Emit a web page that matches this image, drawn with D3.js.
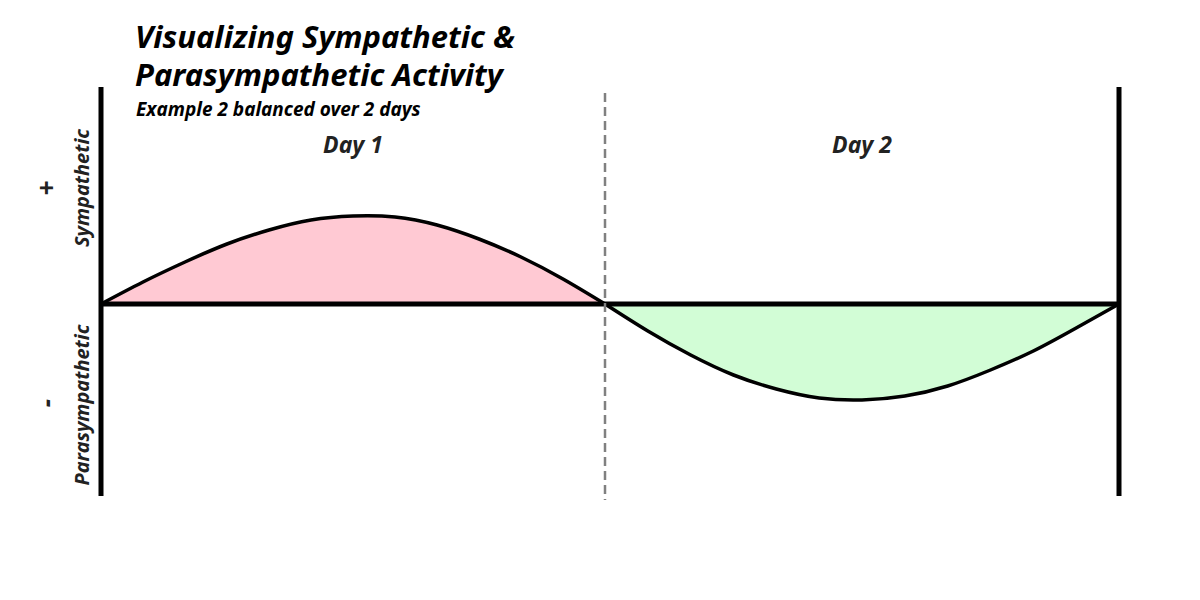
<!DOCTYPE html>
<html>
<head>
<meta charset="utf-8">
<script src="https://cdn.jsdelivr.net/npm/d3@7"></script>
<style>
  body { margin: 0; background: #fff; }
  text { font-family: "Noto Sans", "Open Sans", sans-serif; font-weight: 700; font-style: italic; }
</style>
</head>
<body>
<div id="chart"></div>
<script>
// hours across the two days
const hours = [0, 2, 4, 6, 8, 10, 12, 14, 16, 18, 20, 22, 24,
               26, 28, 30, 32, 34, 36, 38, 40, 42, 44, 46, 48];
// activity level (+ sympathetic, - parasympathetic)
const activity = [0, 0.22, 0.42, 0.60, 0.74, 0.84, 0.88, 0.87, 0.79, 0.65, 0.47, 0.25, 0,
                  -0.27, -0.51, -0.71, -0.85, -0.94, -0.96, -0.92, -0.82, -0.66, -0.47, -0.24, 0];
const dayLabels = ["Day 1", "Day 2"];
const dayStarts = [0, 24];

const width = 1200, height = 600;

const x = d3.scaleLinear().domain([0, 24, 48]).range([101, 605, 1119]);
const y = d3.scaleLinear().domain([-2, 2]).range([504, 104]);

const svg = d3.select('#chart').append('svg')
    .attr('width', width)
    .attr('height', height);

const points = hours.map((h, i) => ({ h: h, v: activity[i] }));
const day1 = points.filter(d => d.h <= 24);
const day2 = points.filter(d => d.h >= 24);

const area = d3.area()
    .x(d => x(d.h))
    .y0(y(0))
    .y1(d => y(d.v))
    .curve(d3.curveNatural);

const line = d3.line()
    .x(d => x(d.h))
    .y(d => y(d.v))
    .curve(d3.curveNatural);

svg.append('path').attr('d', area(day1)).attr('fill', '#ffc9d3');
svg.append('path').attr('d', area(day2)).attr('fill', '#d2fdd6');

svg.append('path').attr('d', line(day1))
    .attr('fill', 'none').attr('stroke', '#000').attr('stroke-width', 3.5);
svg.append('path').attr('d', line(day2))
    .attr('fill', 'none').attr('stroke', '#000').attr('stroke-width', 3.5);

// baseline
svg.append('line')
    .attr('x1', x(0)).attr('x2', x(48))
    .attr('y1', y(0)).attr('y2', y(0))
    .attr('stroke', '#000').attr('stroke-width', 5);

// day divider
svg.append('line')
    .attr('x1', x(24)).attr('x2', x(24))
    .attr('y1', 93).attr('y2', 500)
    .attr('stroke', '#808080').attr('stroke-width', 2.5)
    .attr('stroke-dasharray', '9,5');

// outer vertical bars
[0, 48].forEach(h => {
    svg.append('line')
        .attr('x1', x(h)).attr('x2', x(h))
        .attr('y1', 87).attr('y2', 496)
        .attr('stroke', '#000').attr('stroke-width', 5);
});

// day labels
svg.selectAll('.day')
    .data(dayLabels)
    .enter().append('text')
    .attr('class', 'day')
    .attr('x', (d, i) => (x(dayStarts[i]) + x(dayStarts[i] + 24)) / 2)
    .attr('y', 153)
    .attr('text-anchor', 'middle')
    .attr('font-size', 23)
    .attr('fill', '#222')
    .text(d => d);

// titles
svg.append('text').attr('x', 135).attr('y', 48).attr('font-size', 31)
    .text('Visualizing Sympathetic &');
svg.append('text').attr('x', 135).attr('y', 86).attr('font-size', 31)
    .text('Parasympathetic Activity');
svg.append('text').attr('x', 136).attr('y', 116).attr('font-size', 19)
    .text('Example 2 balanced over 2 days');

// y side labels
function sideLabel(txt, cx, cy, size) {
    svg.append('text')
        .attr('transform', `translate(${cx},${cy}) rotate(-90)`)
        .attr('text-anchor', 'middle')
        .attr('font-size', size)
        .attr('fill', '#222')
        .text(txt);
}
sideLabel('Sympathetic', 89, 188, 20);
sideLabel('Parasympathetic', 89, 405, 20);
sideLabel('+', 56, 188, 26);
sideLabel('-', 56, 403, 26);
</script>
</body>
</html>
